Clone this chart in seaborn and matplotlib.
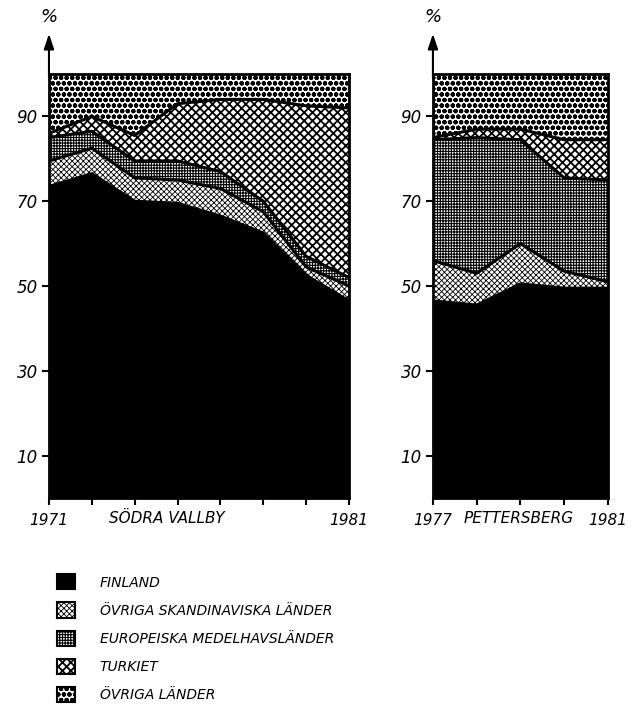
import numpy as np
import pandas as pd
import matplotlib.pyplot as plt
import matplotlib.transforms as mtransforms
import seaborn as sns
from matplotlib.patches import Patch

# Södra Vallby 1971-1981, andel (%) per ursprungsland
sv_finland = [73.5, 76.5, 70, 69.5, 66.5, 62.5, 52.5, 46.5]
sv_skand = [6, 6, 5.5, 5.5, 6.5, 5, 2, 3.5]
sv_medel = [5.5, 4, 4, 4.5, 4, 2.5, 2.5, 2]
sv_turkiet = [1, 3.5, 6, 13.5, 17, 24, 35.5, 40]
sv_ovriga = [14, 10, 14.5, 7, 6, 6, 7.5, 8]
sv_ticks = ['1971', '', '', '', '', '', '', '1981']

# Pettersberg 1977-1981
pb_finland = [46.5, 45.5, 50.5, 49.5, 49.5]
pb_skand = [9.5, 7.5, 9.5, 4, 1.5]
pb_medel = [28.5, 32, 24.5, 22, 24]
pb_turkiet = [0.5, 2, 2.5, 9, 9.5]
pb_ovriga = [15, 13, 13, 15.5, 15.5]
pb_ticks = ['1977', '', '', '', '1981']

labels = ['FINLAND', 'ÖVRIGA SKANDINAVISKA LÄNDER',
          'EUROPEISKA MEDELHAVSLÄNDER', 'TURKIET', 'ÖVRIGA LÄNDER']
hatches = [None, 'xxxxxx', '++++++', 'xxxx', 'ooo']
hatch_lw = [1.0, 0.6, 0.8, 1.3, 1.5]
y_ticks = [10, 30, 50, 70, 90]

sns.set_style('ticks')
plt.rcParams['font.family'] = ['DejaVu Sans']
plt.rcParams['hatch.linewidth'] = 1.0
plt.rcParams['hatch.color'] = 'black'
plt.rcParams['text.color'] = 'black'
plt.rcParams['xtick.color'] = 'black'
plt.rcParams['ytick.color'] = 'black'
plt.rcParams['axes.edgecolor'] = 'black'


def set_hlw(artist, lw):
    if hasattr(artist, 'set_hatch_linewidth'):
        artist.set_hatch_linewidth(lw)


def draw_panel(ax, series, ticks, place, place_x):
    x = np.arange(len(series[0]))
    tops = np.cumsum(np.array(series, dtype=float), axis=0)
    bottoms = np.vstack([np.zeros(len(x)), tops[:-1]])

    for lo, hi, h, hl in zip(bottoms, tops, hatches, hatch_lw):
        if h is None:
            ax.fill_between(x, lo, hi, facecolor='black', edgecolor='black', lw=0)
        else:
            with plt.rc_context({'hatch.linewidth': hl}):
                poly = ax.fill_between(x, lo, hi, facecolor='white',
                                       edgecolor='black', hatch=h, lw=0)
            set_hlw(poly, hl)

    # thick boundary lines between the bands
    for i in range(len(tops) - 1):
        df = pd.DataFrame({'x': x, 'y': tops[i]})
        sns.lineplot(data=df, x='x', y='y', color='black', lw=2.2, ax=ax)

    ax.set_xlim(0, len(x) - 1)
    ax.set_ylim(0, 100)
    ax.set_xticks(x)
    ax.set_xticklabels(ticks, fontstyle='italic', fontsize=11)
    ax.set_yticks(y_ticks)
    ax.set_yticklabels([str(v) for v in y_ticks], fontstyle='italic', fontsize=12)
    ax.set_xlabel('')
    ax.set_ylabel('')
    ax.tick_params(axis='x', direction='out', length=5, width=1.5, pad=6)
    ax.tick_params(axis='y', direction='out', length=5, width=1.5, pad=3)
    for sp in ax.spines.values():
        sp.set_visible(True)
        sp.set_linewidth(2)
        sp.set_color('black')

    ax.annotate('', xy=(0, 1.095), xytext=(0, 0.99), xycoords='axes fraction',
                arrowprops=dict(arrowstyle='-|>,head_length=0.9,head_width=0.3',
                                color='black', lw=1.5, shrinkA=0, shrinkB=0),
                annotation_clip=False)
    ax.text(0, 1.135, '%', transform=ax.transAxes, ha='center', va='center',
            fontsize=13, fontstyle='italic')

    trans = mtransforms.blended_transform_factory(ax.transData, ax.transAxes)
    ax.text(place_x, -0.048, place, transform=trans, ha='center', va='center',
            fontsize=11, fontstyle='italic')


fig = plt.figure(figsize=(6.32, 7.13), dpi=100)
ax1 = fig.add_axes([0.0775, 0.3015, 0.4747, 0.5947])
ax2 = fig.add_axes([0.685, 0.3015, 0.277, 0.5947])

draw_panel(ax1, [sv_finland, sv_skand, sv_medel, sv_turkiet, sv_ovriga],
           sv_ticks, 'SÖDRA VALLBY', 2.75)
draw_panel(ax2, [pb_finland, pb_skand, pb_medel, pb_turkiet, pb_ovriga],
           pb_ticks, 'PETTERSBERG', 1.95)

handles = []
for h, hl in zip(hatches, hatch_lw):
    if h is None:
        handles.append(Patch(facecolor='black', edgecolor='black', lw=1.5))
    else:
        with plt.rc_context({'hatch.linewidth': hl}):
            p = Patch(facecolor='white', edgecolor='black', hatch=h, lw=1.5)
        set_hlw(p, hl)
        handles.append(p)

leg = fig.legend(handles, labels, loc='upper left', bbox_to_anchor=(0.07, 0.212),
                 frameon=False, fontsize=10, handlelength=1.3, handleheight=1.3,
                 labelspacing=0.93, handletextpad=1.8, borderpad=0.4)
for t in leg.get_texts():
    t.set_fontstyle('italic')
    t.set_color('black')
for p, hl in zip(leg.get_patches(), hatch_lw):
    set_hlw(p, hl)

fig.savefig('out.png', dpi=100)
